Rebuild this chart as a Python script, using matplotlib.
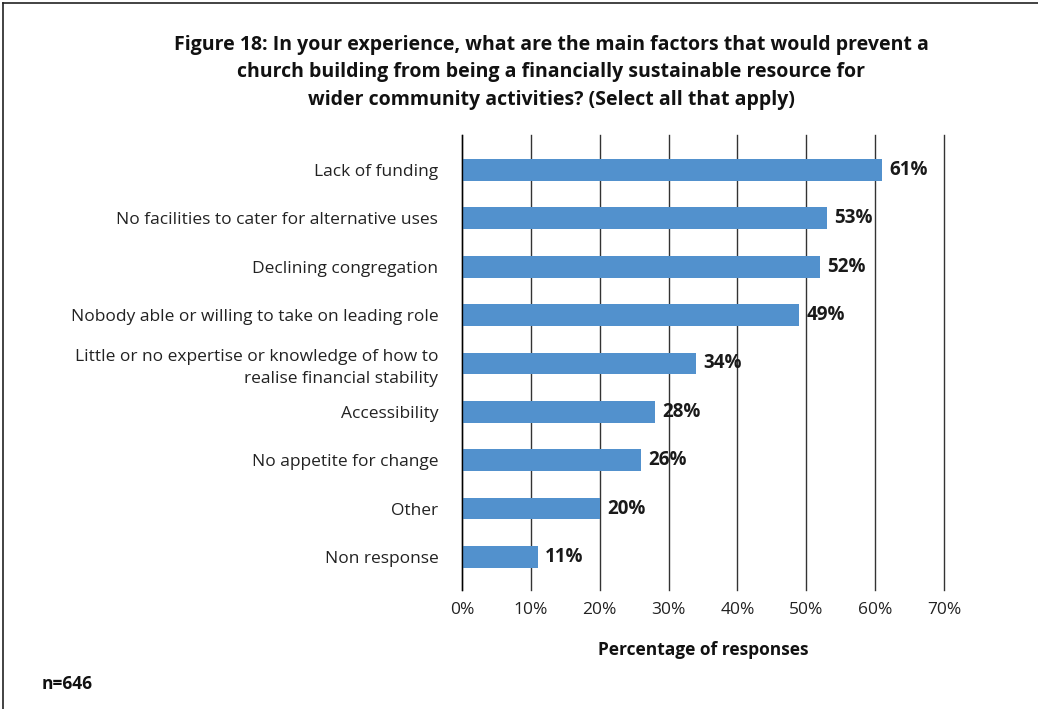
import matplotlib
matplotlib.use("Agg")
import matplotlib.pyplot as plt
from matplotlib.lines import Line2D

categories = [
    "Lack of funding",
    "No facilities to cater for alternative uses",
    "Declining congregation",
    "Nobody able or willing to take on leading role",
    "Little or no expertise or knowledge of how to\nrealise financial stability",
    "Accessibility",
    "No appetite for change",
    "Other",
    "Non response",
]
values = [61, 53, 52, 49, 34, 28, 26, 20, 11]
xticks = [0, 10, 20, 30, 40, 50, 60, 70]

plt.rcParams['font.family'] = ['Open Sans', 'DejaVu Sans']

fig = plt.figure(figsize=(10.38, 7.09), dpi=100)
ax = fig.add_axes([0.445, 0.168, 0.4644, 0.6416])

y = list(range(len(categories)))
ax.barh(y, values, height=0.45, color="#5291CD", zorder=3)
for yi, v in zip(y, values):
    ax.text(v + 1.1, yi, f"{v}%", va="center", ha="left",
            fontsize=13.5, fontweight="bold", color="#1a1a1a", zorder=4)

ax.set_xlim(0, 70)
ax.set_ylim(len(categories) - 0.32, -0.72)
ax.set_xticks(xticks)
ax.set_xticklabels([f"{t}%" for t in xticks], fontsize=12.5, color="#222222")
ax.set_yticks(y)
ax.set_yticklabels(categories, fontsize=12.5, color="#222222", ha="right",
                   linespacing=1.5)
ax.tick_params(axis="both", length=0)
ax.tick_params(axis="y", pad=17)
ax.tick_params(axis="x", pad=9)
ax.xaxis.grid(True, color="#333333", linewidth=1.0, zorder=0)
for gl in ax.get_xgridlines():
    gl.set_clip_on(False)
for s in ["top", "right", "bottom"]:
    ax.spines[s].set_visible(False)
ax.spines["left"].set_color("#000000")
ax.spines["left"].set_linewidth(1.0)
ax.spines["left"].set_zorder(5)

ax.set_xlabel("Percentage of responses", fontsize=12.5, fontweight="bold",
              labelpad=16, color="#111111")

fig.text(0.531, 0.951,
         "Figure 18: In your experience, what are the main factors that would prevent a\n"
         "church building from being a financially sustainable resource for\n"
         "wider community activities? (Select all that apply)",
         ha="center", va="top", fontsize=14, fontweight="bold",
         linespacing=1.5, color="#111111")

fig.text(0.04, 0.028, "n=646", fontsize=12.5, fontweight="bold", color="#111111")

# frame border (top and left edges visible)
fig.add_artist(Line2D([0.003, 1.0], [0.996, 0.996], transform=fig.transFigure,
                      color="#222222", linewidth=1.2))
fig.add_artist(Line2D([0.003, 0.003], [0.0, 0.996], transform=fig.transFigure,
                      color="#222222", linewidth=1.2))

plt.savefig("out.png", dpi=100)
plt.close()
